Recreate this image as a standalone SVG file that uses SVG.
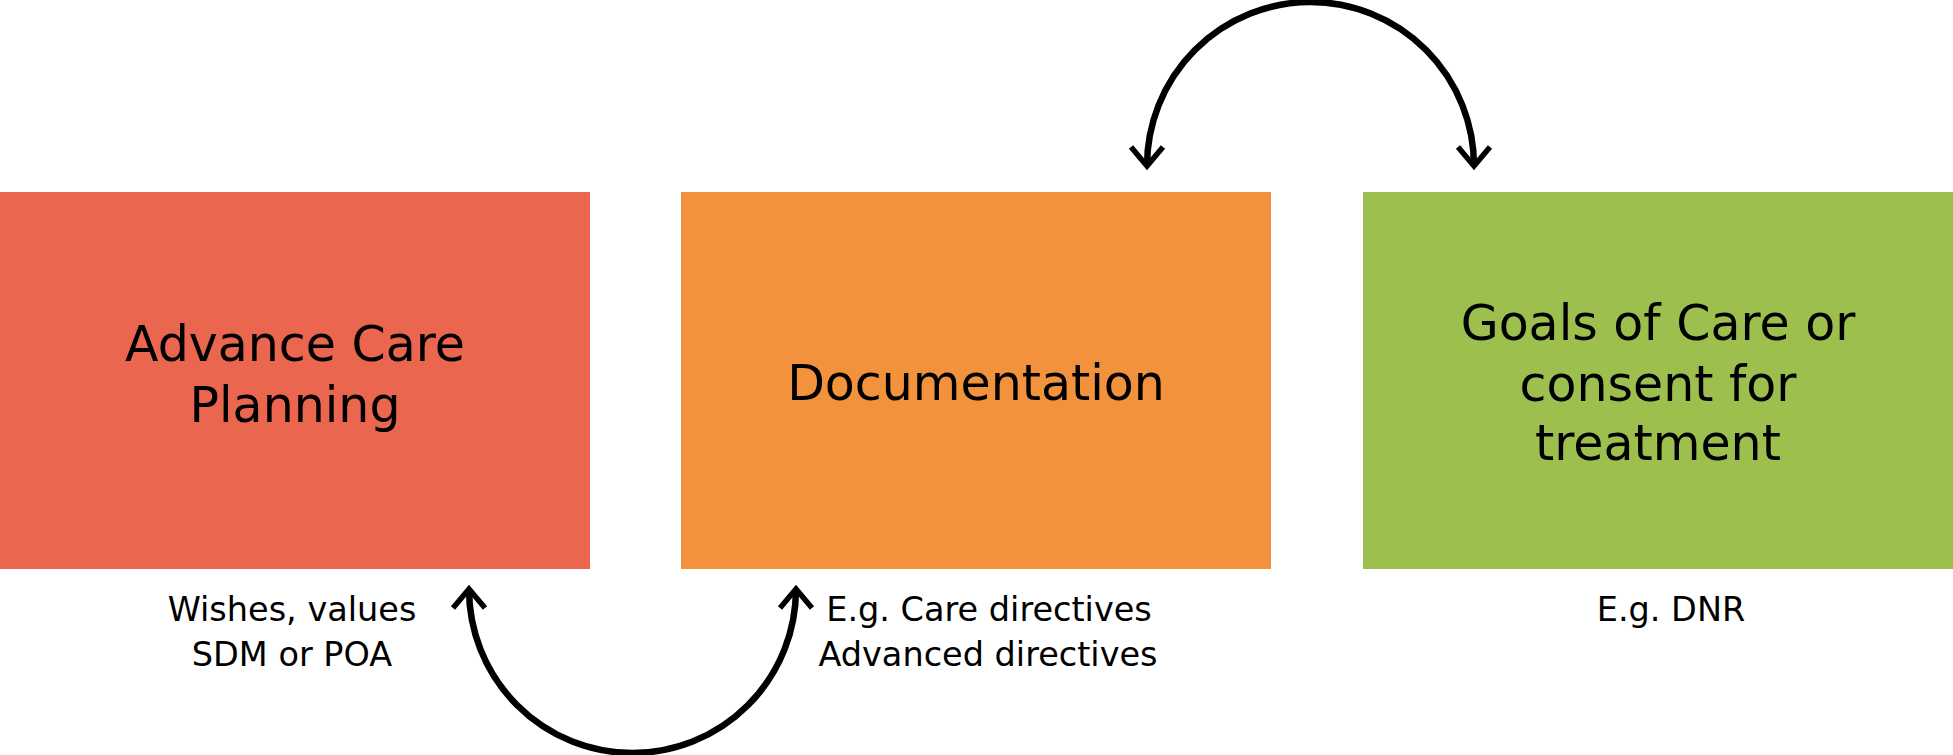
<svg xmlns="http://www.w3.org/2000/svg" width="1953" height="755" viewBox="0 0 1953 755">
<style>
.title{font-family:"DejaVu Sans","Liberation Sans",sans-serif;font-size:49px;fill:#000;text-anchor:middle}
.sub{font-family:"DejaVu Sans","Liberation Sans",sans-serif;font-size:33.5px;fill:#000;text-anchor:middle}
.arc{fill:none;stroke:#000;stroke-width:6.5;marker-start:url(#chev);marker-end:url(#chev)}
</style>
<defs>
<marker id="chev" markerUnits="userSpaceOnUse" markerWidth="40" markerHeight="40" viewBox="-25 -20 30 40" refX="0" refY="0" orient="auto-start-reverse" overflow="visible">
<path d="M -19 -16 L 0 0 L -19 16" fill="none" stroke="#000" stroke-width="5.5"/>
</marker>
</defs>
<rect width="1953" height="755" fill="#fff"/>
<g id="node-acp">
<rect x="0" y="192" width="590" height="377" fill="#EB664F"/>
<text class="title" x="295" y="361">Advance Care</text>
<text class="title" x="295" y="422">Planning</text>
<text class="sub" x="292" y="621">Wishes, values</text>
<text class="sub" x="292" y="666">SDM or POA</text>
</g>
<g id="node-doc">
<rect x="681" y="192" width="590" height="377" fill="#F3923C"/>
<text class="title" x="976" y="400">Documentation</text>
<text class="sub" x="989" y="621">E.g. Care directives</text>
<text class="sub" x="988" y="666">Advanced directives</text>
</g>
<g id="node-goc">
<rect x="1363" y="192" width="590" height="377" fill="#9DBF4D"/>
<text class="title" x="1658" y="340">Goals of Care or</text>
<text class="title" x="1658" y="401">consent for</text>
<text class="title" x="1658" y="460">treatment</text>
<text class="sub" x="1671" y="621">E.g. DNR</text>
</g>
<g id="connectors">
<path class="arc" d="M 469 589 A 163.5 164 0 0 0 796 589"/>
<path class="arc" d="M 1147 166 A 163.5 164 0 0 1 1474 166"/>
</g>
</svg>
